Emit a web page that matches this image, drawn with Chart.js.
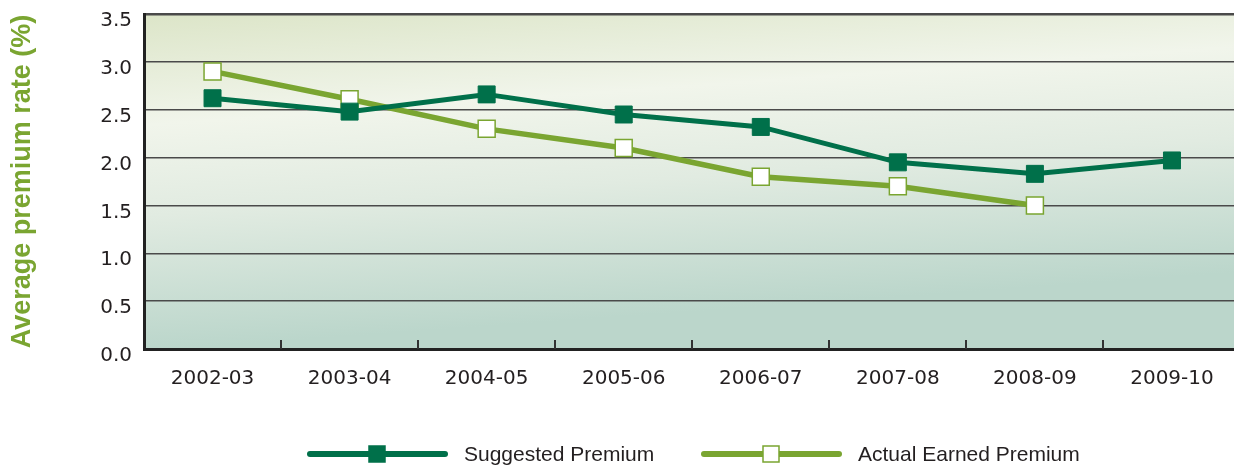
<!DOCTYPE html>
<html>
<head>
<meta charset="utf-8">
<title>Average premium rate</title>
<script src="https://cdn.jsdelivr.net/npm/chart.js@4/dist/chart.umd.min.js"></script>
<style>
  html, body { margin: 0; padding: 0; background: #fff; overflow: hidden; }
  #wrap { width: 1254px; height: 476px; margin-top: -10px; }
</style>
</head>
<body>
<div id="wrap"><canvas id="premiumChart" width="1254" height="476"></canvas></div>
<script>
// ---- data ----
const years = ['2002-03', '2003-04', '2004-05', '2005-06', '2006-07', '2007-08', '2008-09', '2009-10'];
const suggestedPremium = [2.62, 2.48, 2.66, 2.45, 2.32, 1.95, 1.83, 1.97];
const actualEarnedPremium = [2.90, 2.61, 2.30, 2.10, 1.80, 1.70, 1.50, null];
const yTicks = [0, 0.5, 1.0, 1.5, 2.0, 2.5, 3.0, 3.5];

const DARK_GREEN = '#00704a';
const LIGHT_GREEN = '#7aa531';
const TEXT = '#231f20';
const FONT = "'Liberation Sans', Arial, sans-serif";
const TICK_FONT = "'DejaVu Sans', sans-serif";

// pale green wash behind the plot, nearly vertical
const plotBackground = {
  id: 'plotBackground',
  beforeDraw(chart) {
    const { ctx, chartArea: a } = chart;
    const g = ctx.createLinearGradient(a.left, a.top, a.left + 24, a.bottom);
    g.addColorStop(0, '#dce5c8');
    g.addColorStop(0.33, '#f1f5eb');
    g.addColorStop(0.6, '#e1ebe1');
    g.addColorStop(1, '#bbd6cb');
    ctx.save();
    ctx.fillStyle = g;
    ctx.fillRect(a.left, a.top, a.right - a.left, a.bottom - a.top);
    ctx.restore();
  }
};

// short upward ticks between categories on the x axis
const categoryTicks = {
  id: 'categoryTicks',
  afterDatasetsDraw(chart) {
    const { ctx, chartArea: a } = chart;
    const x = chart.scales.x;
    ctx.save();
    ctx.strokeStyle = '#333';
    ctx.lineWidth = 2;
    for (let i = 1; i < years.length; i++) {
      const px = Math.round((x.getPixelForValue(i - 1) + x.getPixelForValue(i)) / 2);
      ctx.beginPath();
      ctx.moveTo(px, a.bottom);
      ctx.lineTo(px, a.bottom - 9);
      ctx.stroke();
    }
    ctx.restore();
  }
};

// legend: long line sample with the marker in the middle
const lineLegend = {
  id: 'lineLegend',
  afterDraw(chart) {
    const { ctx } = chart;
    const starts = [307, 701];
    const y = 464;
    ctx.save();
    chart.data.datasets.forEach((ds, i) => {
      const x0 = starts[i];
      ctx.strokeStyle = ds.borderColor;
      ctx.lineWidth = 6;
      ctx.lineCap = 'round';
      ctx.beginPath();
      ctx.moveTo(x0 + 3, y);
      ctx.lineTo(x0 + 138, y);
      ctx.stroke();
      ctx.fillStyle = ds.pointBackgroundColor;
      ctx.fillRect(x0 + 62, y - 8, 16, 16);
      ctx.strokeStyle = ds.pointBorderColor;
      ctx.lineWidth = 1.5;
      ctx.strokeRect(x0 + 62, y - 8, 16, 16);
      ctx.fillStyle = TEXT;
      ctx.font = '21px ' + FONT;
      ctx.textBaseline = 'middle';
      ctx.textAlign = 'left';
      ctx.fillText(ds.label, x0 + 157, y + 1);
    });
    ctx.restore();
  }
};

const ctx = document.getElementById('premiumChart').getContext('2d');
new Chart(ctx, {
  type: 'line',
  data: {
    labels: years,
    datasets: [
      {
        label: 'Suggested Premium',
        data: suggestedPremium,
        borderColor: DARK_GREEN,
        borderWidth: 5,
        pointStyle: 'rect',
        pointRadius: 12,
        pointBackgroundColor: DARK_GREEN,
        pointBorderColor: DARK_GREEN,
        pointBorderWidth: 1,
        tension: 0
      },
      {
        label: 'Actual Earned Premium',
        data: actualEarnedPremium,
        borderColor: LIGHT_GREEN,
        borderWidth: 5.5,
        pointStyle: 'rect',
        pointRadius: 12,
        pointBackgroundColor: '#ffffff',
        pointBorderColor: LIGHT_GREEN,
        pointBorderWidth: 1.5,
        tension: 0
      }
    ]
  },
  options: {
    responsive: false,
    animation: false,
    layout: { padding: 0 },
    plugins: {
      legend: { display: false },
      tooltip: { enabled: false }
    },
    scales: {
      x: {
        offset: true,
        grid: { display: false, drawTicks: false },
        border: { display: true, color: '#222', width: 3 },
        ticks: {
          color: TEXT,
          font: { family: TICK_FONT, size: 20 },
          padding: 18,
          maxRotation: 0
        },
        afterFit(scale) { scale.height = 117; }
      },
      y: {
        min: 0,
        max: 3.5,
        afterBuildTicks(scale) { scale.ticks = yTicks.map(v => ({ value: v })); },
        grid: {
          color: '#4a4a4a',
          lineWidth: c => (c.tick && c.tick.value === 3.5 ? 2.5 : 1.5),
          drawTicks: false
        },
        border: { display: true, color: '#222', width: 3 },
        ticks: {
          color: TEXT,
          font: { family: TICK_FONT, size: 20 },
          padding: 12,
          labelOffset: 7,
          callback: v => Number(v).toFixed(1)
        },
        title: {
          display: true,
          text: 'Average premium rate (%)',
          color: LIGHT_GREEN,
          font: { family: FONT, size: 27, weight: 'bold' },
          padding: { top: 6, bottom: 0 }
        },
        afterFit(scale) { scale.width = 144; }
      }
    }
  },
  plugins: [plotBackground, categoryTicks, lineLegend]
});
</script>
</body>
</html>
